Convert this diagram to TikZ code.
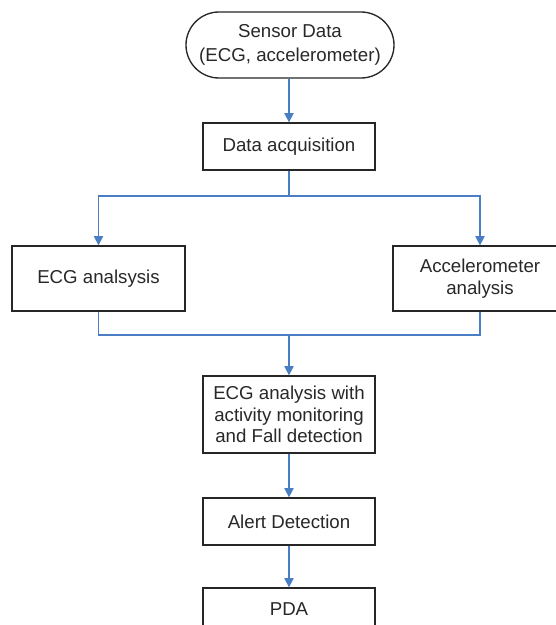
\documentclass[tikz,border=0pt]{standalone}
\usepackage{fontspec}
\setmainfont{Liberation Sans}
\usetikzlibrary{arrows.meta}
\definecolor{conn}{RGB}{74,126,196}
\definecolor{txt}{RGB}{40,40,40}
\begin{document}
\begin{tikzpicture}[x=0.75pt,y=-0.75pt,
  box/.style={draw=black!85,line width=1pt,fill=white,text=txt,align=center,
    font=\fontsize{14}{16.3}\selectfont,inner sep=0pt,
    minimum width=129pt,minimum height=35.25pt},
  term/.style={box,rounded corners=24.75pt,minimum width=156pt,minimum height=49.5pt,
    font=\fontsize{14}{18.5}\selectfont},
  conn/.style={draw=conn,line width=1.1pt},
  arr/.style={conn,-{Triangle[length=7pt,width=7pt]}}]
\clip (0,0) rectangle (556,625);
\fill[white] (0,0) rectangle (556,625);
\node[term] (start) at (290,45) {Sensor Data\\(ECG, accelerometer)};
\node[box] (acq) at (289,146.5) {Data acquisition};
\node[box,minimum width=129.75pt,minimum height=48.75pt] (ecg) at (98.5,278.5) {ECG analsysis};
\node[box,minimum width=130.5pt,minimum height=48.75pt] (acc) at (480,278.5) {Accelerometer\\analysis};
\node[box,minimum height=57.75pt] (mid) at (289,414.5) {ECG analysis with\\activity monitoring\\and Fall detection};
\node[box] (alert) at (289,521.5) {Alert Detection};
\node[box] (pda) at (289,611.5) {\raisebox{3pt}{PDA}};
\coordinate (split) at (289,196);
\coordinate (join) at (289,335);
\draw[arr] (start.south -| acq.north) -- (acq.north);
\draw[conn] (acq.south) -- (split);
\draw[arr] (split) -| (ecg.north);
\draw[arr] (split) -| (acc.north);
\draw[conn] (ecg.south) |- (join);
\draw[conn] (acc.south) |- (join);
\draw[arr] (join) -- (mid.north);
\draw[arr] (mid.south) -- (alert.north);
\draw[arr] (alert.south) -- (pda.north);
\end{tikzpicture}
\end{document}
